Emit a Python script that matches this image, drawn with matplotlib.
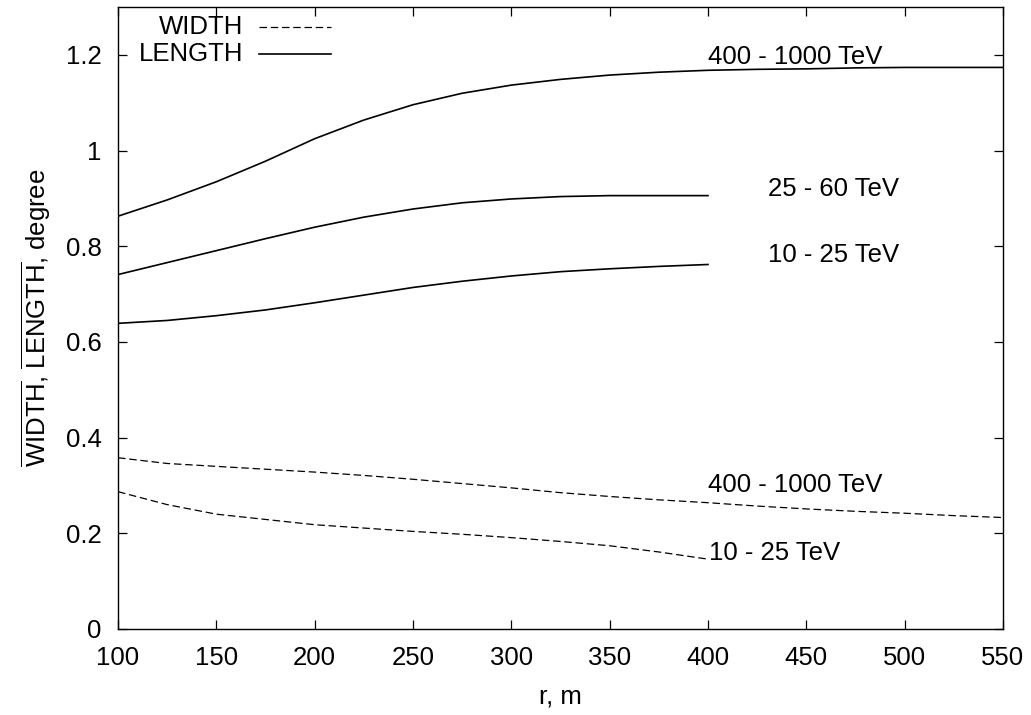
import matplotlib
matplotlib.use("Agg")
import matplotlib.pyplot as plt

plt.rcParams['font.family'] = ['Liberation Sans', 'DejaVu Sans']
plt.rcParams['mathtext.fontset'] = 'custom'
plt.rcParams['mathtext.rm'] = 'Liberation Sans'
plt.rcParams['mathtext.it'] = 'Liberation Sans'

FS = 18.5

# distance from shower axis, m
r_full = [100, 125, 150, 175, 200, 225, 250, 275, 300, 325, 350, 375, 400,
          425, 450, 475, 500, 525, 550]
r_short = [100, 125, 150, 175, 200, 225, 250, 275, 300, 325, 350, 375, 400]

# mean LENGTH, degree
length_400_1000 = [0.863, 0.897, 0.935, 0.978, 1.025, 1.064, 1.096, 1.120, 1.137,
                   1.149, 1.158, 1.164, 1.168, 1.170, 1.171, 1.173, 1.174, 1.174, 1.174]
length_25_60 = [0.741, 0.766, 0.791, 0.816, 0.840, 0.861, 0.878, 0.891, 0.899,
                0.904, 0.906, 0.906, 0.906]
length_10_25 = [0.639, 0.645, 0.655, 0.667, 0.682, 0.698, 0.714, 0.727, 0.738,
                0.747, 0.753, 0.758, 0.762]

# mean WIDTH, degree
width_400_1000 = [0.358, 0.346, 0.340, 0.334, 0.328, 0.321, 0.313, 0.304, 0.295,
                  0.285, 0.277, 0.270, 0.264, 0.257, 0.251, 0.246, 0.242, 0.237, 0.233]
width_10_25 = [0.287, 0.260, 0.240, 0.229, 0.218, 0.211, 0.204, 0.198, 0.191,
               0.183, 0.174, 0.161, 0.146]

x_ticks = [100, 150, 200, 250, 300, 350, 400, 450, 500, 550]
y_ticks = [0, 0.2, 0.4, 0.6, 0.8, 1.0, 1.2]
y_tick_labels = ['0', '0.2', '0.4', '0.6', '0.8', '1', '1.2']

fig = plt.figure(figsize=(10.31, 7.15), dpi=100)
ax = fig.add_axes([0.1145, 0.1203, 0.9728 - 0.1145, 0.990 - 0.1203])

solid = dict(color='black', lw=1.2, linestyle='-')
dashed = dict(color='black', lw=0.9, linestyle=(0, (6, 3)))

ax.plot(r_full, length_400_1000, **solid)
ax.plot(r_short, length_25_60, **solid)
ax.plot(r_short, length_10_25, **solid)
ax.plot(r_full, width_400_1000, **dashed)
ax.plot(r_short, width_10_25, **dashed)

# curve annotations
ax.text(400, 1.196, '400 - 1000 TeV', fontsize=FS, ha='left', va='center')
ax.text(430.5, 0.919, '25 - 60 TeV', fontsize=FS, ha='left', va='center')
ax.text(430.5, 0.781, '10 - 25 TeV', fontsize=FS, ha='left', va='center')
ax.text(400, 0.301, '400 - 1000 TeV', fontsize=FS, ha='left', va='center')
ax.text(400.5, 0.159, '10 - 25 TeV', fontsize=FS, ha='left', va='center')

# key in the upper-left corner: label, then line sample
key = [('WIDTH', dashed, 0.968), ('LENGTH', solid, 0.924)]
for label, style, yk in key:
    ax.text(0.1412, yk, label, transform=ax.transAxes, fontsize=FS,
            ha='right', va='center')
    ax.plot([0.1593, 0.2407], [yk, yk], transform=ax.transAxes, **style)

ax.set_xlim(100, 550)
ax.set_ylim(0, 1.3)
ax.set_xticks(x_ticks)
ax.set_xticklabels([str(v) for v in x_ticks])
ax.set_yticks(y_ticks)
ax.set_yticklabels(y_tick_labels)
ax.tick_params(direction='in', length=6.5, width=0.9, top=True, right=True,
               labelsize=FS)
ax.tick_params(axis='x', pad=12)
ax.tick_params(axis='y', pad=12)
for s in ax.spines.values():
    s.set_linewidth(1.0)

ax.set_xlabel('r, m', fontsize=FS, labelpad=11)
ax.set_ylabel(r'$\overline{\mathrm{WIDTH}}$, $\overline{\mathrm{LENGTH}}$, degree',
              fontsize=FS, labelpad=9)

fig.savefig('out.png', dpi=100)
